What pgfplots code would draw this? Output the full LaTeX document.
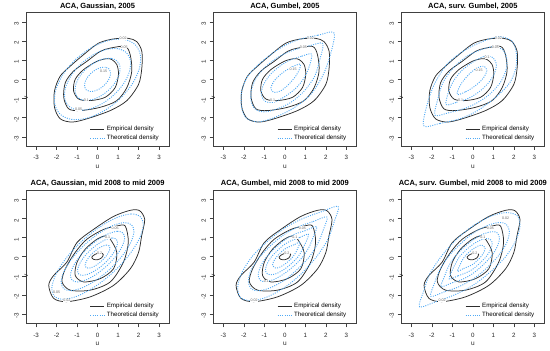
\documentclass[border=0pt]{standalone}
\usepackage{pgfplots}
\pgfplotsset{compat=1.18}
\usepackage{pgfplotstable}
\usepackage{fontspec}
\setmainfont{Liberation Sans}
\definecolor{theo}{RGB}{80,170,245}
\definecolor{emp}{RGB}{45,45,45}
\pgfplotsset{
  pan/.style={scale only axis, width=142.7pt, height=133.3pt, anchor=south west,
    xmin=-3.48, xmax=3.48, ymin=-3.48, ymax=3.48,
    xtick={-3,-2,-1,0,1,2,3}, ytick={-3,-2,-1,0,1,2,3},
    xticklabels={-3,-2,-1,0,1,2,3}, yticklabels={-3,-2,-1,0,1,2,3},
    tick pos=left, tick align=outside, major tick length=4pt,
    tick style={black!75, line width=0.5pt},
    axis line style={black!75, line width=0.6pt},
    ticklabel style={font=\fontsize{6.2}{7}\selectfont, text=black!85},
    xticklabel style={yshift=-2pt},
    yticklabel style={rotate=90, anchor=south, xshift=-2pt},
    xlabel={u}, ylabel={v},
    label style={font=\fontsize{6.5}{7}\selectfont, text=black!85},
    xlabel style={at={(axis description cs:0.5,0)}, anchor=center, yshift=-21pt},
    ylabel style={at={(axis description cs:0,0.5)}, anchor=center, xshift=-19pt},
    every axis title shift=0pt,
    title style={font=\bfseries\fontsize{7.5}{8}\selectfont, at={(axis description cs:0.5,1)}, anchor=base, yshift=4pt},
    legend style={draw=none, fill=none, at={(axis description cs:0.945,0.02)}, anchor=south east,
      font=\fontsize{6.2}{7}\selectfont, row sep=-1pt, inner sep=0pt},
    legend cell align=left,
    legend image code/.code={\draw[##1] (0pt,0pt) -- (14pt,0pt);},
  },
  E/.style={forget plot, emp, line width=0.75pt, smooth cycle},
  T/.style={forget plot, theo, line width=0.9pt, dash pattern=on 1pt off 1.3pt, smooth cycle},
  LE/.style={draw=emp, line width=0.75pt},
  LT/.style={draw=theo, line width=0.9pt, dash pattern=on 1pt off 1.3pt},
}
\tikzset{lab/.style={font=\fontsize{3.6}{4}\selectfont, text=black!60, fill=white, inner sep=0.2pt}}

% empirical contours, 2005
\pgfplotstableread{
x y
0.05 1.89
0.78 2.11
1.5 2.14
1.91 1.97
2.16 1.46
2.16 0.6
2.0 -0.26
1.43 -1.11
0.62 -1.63
-0.52 -2.06
-1.25 -2.23
-1.82 -2.06
-2.1 -1.46
-2.1 -0.6
-1.82 0.17
-1.33 0.69
-0.68 1.29
}\EmpAa
\pgfplotstableread{
x y
0.13 1.46
0.62 1.63
1.35 1.72
1.59 1.29
1.67 0.43
1.43 -0.43
0.94 -1.11
0.13 -1.46
-0.84 -1.63
-1.41 -1.54
-1.65 -0.94
-1.57 -0.17
-1.17 0.43
-0.52 0.94
}\EmpAb
\pgfplotstableread{
x y
-0.03 0.94
0.45 1.08
0.7 1.03
0.94 0.77
1.02 0.26
0.86 -0.43
0.37 -0.94
-0.36 -1.11
-0.92 -1.03
-1.17 -0.6
-1.09 0.0
-0.68 0.51
}\EmpAc
% empirical contours, mid 2008 to mid 2009
\pgfplotstableread{
x y
0.78 2.1
1.6 2.42
2.05 2.4
2.3 1.94
2.15 1.08
2.0 0.22
1.6 -0.63
0.78 -1.5
-0.36 -2.1
-1.5 -2.35
-2.14 -2.18
-2.38 -1.5
-2.14 -0.98
-1.5 -0.29
-1.0 0.74
-0.2 1.42
}\EmpBa
\pgfplotstableread{
x y
0.94 1.6
1.35 1.6
1.5 0.74
1.26 -0.29
0.62 -1.32
-0.36 -1.75
-1.33 -1.75
-1.73 -1.32
-1.57 -0.63
-1.09 0.22
-0.52 0.91
0.29 1.42
}\EmpBb
\pgfplotstableread{
x y
0.37 1.08
0.62 0.91
0.94 0.22
0.78 -0.63
0.13 -1.15
-0.68 -1.32
-1.09 -0.98
-1.0 -0.29
-0.6 0.39
-0.03 0.91
}\EmpBc
\pgfplotstableread{
x y
0.28 0.12
0.12 0.2
-0.12 0.12
-0.28 -0.02
-0.2 -0.14
0.0 -0.16
0.2 -0.06
}\EmpBd

\begin{document}
\begin{tikzpicture}
\useasboundingbox (0,0) rectangle (550pt,351pt);

% ---------------- Row 1, Gaussian
\begin{axis}[pan, at={(26.2pt,205pt)}, title={ACA, Gaussian, 2005}]
\addlegendimage{LE}\addlegendentry{Empirical density}
\addlegendimage{LT}\addlegendentry{Theoretical density}
\addplot[E] table {\EmpAa};
\addplot[E] table {\EmpAb};
\addplot[E] table {\EmpAc};
\addplot[T] coordinates {(1.824,1.824)(1.281,2.089)(0.545,2.035)(-0.275,1.673)(-1.054,1.054)(-1.673,0.275)(-2.035,-0.545)(-2.089,-1.281)(-1.824,-1.824)(-1.281,-2.089)(-0.545,-2.035)(0.275,-1.673)(1.054,-1.054)(1.673,-0.275)(2.035,0.545)(2.089,1.281)};
\addplot[T] coordinates {(1.400,1.400)(0.985,1.603)(0.420,1.560)(-0.209,1.281)(-0.806,0.806)(-1.281,0.209)(-1.560,-0.420)(-1.603,-0.985)(-1.400,-1.400)(-0.985,-1.603)(-0.420,-1.560)(0.209,-1.281)(0.806,-0.806)(1.281,-0.209)(1.560,0.420)(1.603,0.985)};
\addplot[T] coordinates {(0.955,0.955)(0.671,1.093)(0.285,1.065)(-0.144,0.876)(-0.552,0.552)(-0.876,0.144)(-1.065,-0.285)(-1.093,-0.671)(-0.955,-0.955)(-0.671,-1.093)(-0.285,-1.065)(0.144,-0.876)(0.552,-0.552)(0.876,-0.144)(1.065,0.285)(1.093,0.671)};
\addplot[T] coordinates {(0.552,0.552)(0.388,0.632)(0.165,0.615)(-0.083,0.505)(-0.318,0.318)(-0.505,0.083)(-0.615,-0.165)(-0.632,-0.388)(-0.552,-0.552)(-0.388,-0.632)(-0.165,-0.615)(0.083,-0.505)(0.318,-0.318)(0.505,-0.083)(0.615,0.165)(0.632,0.388)};
\node[lab] at (axis cs:1.25,2.13) {0.02};
\node[lab] at (axis cs:1.3,1.7) {0.05};
\node[lab] at (axis cs:-0.92,-1.58) {0.05};
\node[lab] at (axis cs:-0.55,-1.08) {0.1};
\node[lab] at (axis cs:0.3,0.4) {0.15};
\end{axis}

% ---------------- Row 1, Gumbel
\begin{axis}[pan, at={(213.5pt,205pt)}, title={ACA, Gumbel, 2005}]
\addlegendimage{LE}\addlegendentry{Empirical density}
\addlegendimage{LT}\addlegendentry{Theoretical density}
\addplot[E] table {\EmpAa};
\addplot[E] table {\EmpAb};
\addplot[E] table {\EmpAc};
\addplot[T] coordinates {(2.4,2.42)(1.6,2.3)(0.6,2.05)(-0.25,1.62)(-1.15,0.9)(-1.8,0.18)(-2.1,-0.6)(-2.12,-1.4)(-1.9,-2.0)(-1.35,-2.22)(-0.65,-2.05)(0.35,-1.55)(1.25,-0.8)(1.85,0.2)(2.2,1.2)};
\addplot[T] coordinates {(1.85,1.87)(1.2,1.75)(0.4,1.52)(-0.25,1.2)(-0.85,0.75)(-1.35,0.15)(-1.62,-0.5)(-1.65,-1.1)(-1.45,-1.55)(-1.0,-1.7)(-0.4,-1.55)(0.3,-1.2)(0.95,-0.6)(1.45,0.15)(1.7,1.0)};
\addplot[T] coordinates {(1.3,1.32)(0.8,1.2)(0.2,0.98)(-0.3,0.65)(-0.75,0.2)(-1.05,-0.3)(-1.15,-0.8)(-0.95,-1.15)(-0.55,-1.2)(0.0,-0.9)(0.55,-0.45)(0.95,0.1)(1.2,0.7)};
\addplot[T] coordinates {(0.75,0.8)(0.35,0.65)(-0.1,0.35)(-0.5,-0.05)(-0.68,-0.45)(-0.55,-0.68)(-0.2,-0.6)(0.2,-0.25)(0.55,0.2)(0.72,0.55)};
\node[lab] at (axis cs:1.25,2.13) {0.02};
\node[lab] at (axis cs:0.9,1.68) {0.05};
\node[lab] at (axis cs:-0.6,-1.08) {0.1};
\node[lab] at (axis cs:0.4,0.55) {0.15};
\end{axis}

% ---------------- Row 1, surv. Gumbel
\begin{axis}[pan, at={(401.5pt,205pt)}, title={ACA, surv. Gumbel, 2005}]
\addlegendimage{LE}\addlegendentry{Empirical density}
\addlegendimage{LT}\addlegendentry{Theoretical density}
\addplot[E] table {\EmpAa};
\addplot[E] table {\EmpAb};
\addplot[E] table {\EmpAc};
\addplot[T] coordinates {(-2.4,-2.42)(-1.6,-2.3)(-0.6,-2.05)(0.25,-1.62)(1.15,-0.9)(1.8,-0.18)(2.1,0.6)(2.12,1.4)(1.9,2.0)(1.35,2.22)(0.65,2.05)(-0.35,1.55)(-1.25,0.8)(-1.85,-0.2)(-2.2,-1.2)};
\addplot[T] coordinates {(-1.85,-1.87)(-1.2,-1.75)(-0.4,-1.52)(0.25,-1.2)(0.85,-0.75)(1.35,-0.15)(1.62,0.5)(1.65,1.1)(1.45,1.55)(1.0,1.7)(0.4,1.55)(-0.3,1.2)(-0.95,0.6)(-1.45,-0.15)(-1.7,-1.0)};
\addplot[T] coordinates {(-1.3,-1.32)(-0.8,-1.2)(-0.2,-0.98)(0.3,-0.65)(0.75,-0.2)(1.05,0.3)(1.15,0.8)(0.95,1.15)(0.55,1.2)(0.0,0.9)(-0.55,0.45)(-0.95,-0.1)(-1.2,-0.7)};
\addplot[T] coordinates {(-0.75,-0.8)(-0.35,-0.65)(0.1,-0.35)(0.5,0.05)(0.68,0.45)(0.55,0.68)(0.2,0.6)(-0.2,0.25)(-0.55,-0.2)(-0.72,-0.55)};
\node[lab] at (axis cs:1.25,2.13) {0.02};
\node[lab] at (axis cs:1.1,1.68) {0.05};
\node[lab] at (axis cs:0.7,1.15) {0.1};
\node[lab] at (axis cs:-0.6,-1.08) {0.1};
\node[lab] at (axis cs:0.3,0.5) {0.15};
\end{axis}

% ---------------- Row 2, Gaussian
\begin{axis}[pan, at={(26.2pt,27.7pt)}, title={ACA, Gaussian, mid 2008 to mid 2009}]
\addlegendimage{LE}\addlegendentry{Empirical density}
\addlegendimage{LT}\addlegendentry{Theoretical density}
\addplot[E] table {\EmpBa};
\addplot[E] table {\EmpBb};
\addplot[E] table {\EmpBc};
\addplot[E] table {\EmpBd};
\addplot[T] coordinates {(2.086,2.086)(1.625,2.229)(0.918,2.032)(0.071,1.527)(-0.788,0.788)(-1.527,-0.071)(-2.032,-0.918)(-2.229,-1.625)(-2.086,-2.086)(-1.625,-2.229)(-0.918,-2.032)(-0.071,-1.527)(0.788,-0.788)(1.527,0.071)(2.032,0.918)(2.229,1.625)};
\addplot[T] coordinates {(1.662,1.662)(1.296,1.776)(0.732,1.618)(0.058,1.216)(-0.627,0.627)(-1.216,-0.058)(-1.618,-0.732)(-1.776,-1.296)(-1.662,-1.662)(-1.296,-1.776)(-0.732,-1.618)(-0.058,-1.216)(0.627,-0.627)(1.216,0.058)(1.618,0.732)(1.776,1.296)};
\addplot[T] coordinates {(1.237,1.237)(0.964,1.322)(0.544,1.205)(0.042,0.906)(-0.467,0.467)(-0.906,-0.042)(-1.205,-0.544)(-1.322,-0.964)(-1.237,-1.237)(-0.964,-1.322)(-0.544,-1.205)(-0.042,-0.906)(0.467,-0.467)(0.906,0.042)(1.205,0.544)(1.322,0.964)};
\addplot[T] coordinates {(0.912,0.912)(0.710,0.976)(0.400,0.889)(0.029,0.669)(-0.346,0.346)(-0.669,-0.029)(-0.889,-0.400)(-0.976,-0.710)(-0.912,-0.912)(-0.710,-0.976)(-0.400,-0.889)(-0.029,-0.669)(0.346,-0.346)(0.669,0.029)(0.889,0.400)(0.976,0.710)};
\addplot[T] coordinates {(0.566,0.566)(0.442,0.604)(0.250,0.550)(0.021,0.413)(-0.212,0.212)(-0.413,-0.021)(-0.550,-0.250)(-0.604,-0.442)(-0.566,-0.566)(-0.442,-0.604)(-0.250,-0.550)(-0.021,-0.413)(0.212,-0.212)(0.413,0.021)(0.550,0.250)(0.604,0.442)};
\node[lab] at (axis cs:0.86,1.5) {0.05};
\node[lab] at (axis cs:0.49,1.0) {0.1};
\node[lab] at (axis cs:0.1,0.2) {0.2};
\node[lab] at (axis cs:-1.5,-2.3) {0.02};
\node[lab] at (axis cs:-2.0,-1.85) {0.05};
\end{axis}

% ---------------- Row 2, Gumbel
\begin{axis}[pan, at={(213.5pt,27.7pt)}, title={ACA, Gumbel, mid 2008 to mid 2009}]
\addlegendimage{LE}\addlegendentry{Empirical density}
\addlegendimage{LT}\addlegendentry{Theoretical density}
\addplot[E] table {\EmpBa};
\addplot[E] table {\EmpBb};
\addplot[E] table {\EmpBc};
\addplot[E] table {\EmpBd};
\addplot[T] coordinates {(2.6,2.62)(1.8,2.35)(0.9,2.0)(0.0,1.5)(-0.85,0.8)(-1.6,0.0)(-2.1,-0.85)(-2.3,-1.6)(-2.15,-2.15)(-1.6,-2.3)(-0.85,-2.1)(0.0,-1.6)(0.8,-0.9)(1.55,0.0)(2.1,0.9)(2.4,1.8)};
\addplot[T] coordinates {(2.05,2.07)(1.35,1.82)(0.7,1.58)(0.0,1.18)(-0.65,0.62)(-1.25,-0.05)(-1.65,-0.72)(-1.78,-1.3)(-1.62,-1.7)(-1.25,-1.78)(-0.7,-1.62)(0.0,-1.22)(0.62,-0.65)(1.2,0.0)(1.62,0.72)(1.87,1.38)};
\addplot[T] coordinates {(1.55,1.57)(1.0,1.36)(0.5,1.18)(0.0,0.88)(-0.48,0.45)(-0.92,-0.05)(-1.2,-0.55)(-1.3,-0.98)(-1.18,-1.25)(-0.95,-1.3)(-0.55,-1.2)(-0.05,-0.9)(0.45,-0.48)(0.88,0.0)(1.18,0.5)(1.38,1.02)};
\addplot[T] coordinates {(1.15,1.17)(0.72,1.0)(0.35,0.85)(0.0,0.65)(-0.35,0.33)(-0.68,-0.04)(-0.88,-0.41)(-0.95,-0.72)(-0.85,-0.9)(-0.7,-0.95)(-0.4,-0.88)(-0.03,-0.66)(0.33,-0.35)(0.65,0.0)(0.85,0.37)(1.02,0.74)};
\addplot[T] coordinates {(0.75,0.77)(0.45,0.62)(0.22,0.52)(0.0,0.4)(-0.22,0.2)(-0.42,-0.03)(-0.55,-0.26)(-0.6,-0.45)(-0.52,-0.56)(-0.43,-0.6)(-0.25,-0.55)(-0.02,-0.41)(0.2,-0.22)(0.4,0.0)(0.54,0.23)(0.64,0.47)};
\node[lab] at (axis cs:0.86,1.5) {0.05};
\node[lab] at (axis cs:0.49,1.0) {0.1};
\node[lab] at (axis cs:0.1,0.2) {0.2};
\node[lab] at (axis cs:-1.5,-2.3) {0.02};
\node[lab] at (axis cs:-0.9,-1.3) {0.1};
\end{axis}

% ---------------- Row 2, surv. Gumbel
\begin{axis}[pan, at={(401.5pt,27.7pt)}, title={ACA, surv. Gumbel, mid 2008 to mid 2009}]
\addlegendimage{LE}\addlegendentry{Empirical density}
\addlegendimage{LT}\addlegendentry{Theoretical density}
\addplot[E] table {\EmpBa};
\addplot[E] table {\EmpBb};
\addplot[E] table {\EmpBc};
\addplot[E] table {\EmpBd};
\addplot[T] coordinates {(-2.6,-2.62)(-1.8,-2.35)(-0.9,-2.0)(0.0,-1.5)(0.85,-0.8)(1.6,0.0)(2.1,0.85)(2.3,1.6)(2.15,2.15)(1.6,2.3)(0.85,2.1)(0.0,1.6)(-0.8,0.9)(-1.55,0.0)(-2.1,-0.9)(-2.4,-1.8)};
\addplot[T] coordinates {(-2.05,-2.07)(-1.35,-1.82)(-0.7,-1.58)(0.0,-1.18)(0.65,-0.62)(1.25,0.05)(1.65,0.72)(1.78,1.3)(1.62,1.7)(1.25,1.78)(0.7,1.62)(0.0,1.22)(-0.62,0.65)(-1.2,0.0)(-1.62,-0.72)(-1.87,-1.38)};
\addplot[T] coordinates {(-1.55,-1.57)(-1.0,-1.36)(-0.5,-1.18)(0.0,-0.88)(0.48,-0.45)(0.92,0.05)(1.2,0.55)(1.3,0.98)(1.18,1.25)(0.95,1.3)(0.55,1.2)(0.05,0.9)(-0.45,0.48)(-0.88,0.0)(-1.18,-0.5)(-1.38,-1.02)};
\addplot[T] coordinates {(-1.15,-1.17)(-0.72,-1.0)(-0.35,-0.85)(0.0,-0.65)(0.35,-0.33)(0.68,0.04)(0.88,0.41)(0.95,0.72)(0.85,0.9)(0.7,0.95)(0.4,0.88)(0.03,0.66)(-0.33,0.35)(-0.65,0.0)(-0.85,-0.37)(-1.02,-0.74)};
\addplot[T] coordinates {(-0.75,-0.77)(-0.45,-0.62)(-0.22,-0.52)(0.0,-0.4)(0.22,-0.2)(0.42,0.03)(0.55,0.26)(0.6,0.45)(0.52,0.56)(0.43,0.6)(0.25,0.55)(0.02,0.41)(-0.2,0.22)(-0.4,0.0)(-0.54,-0.23)(-0.64,-0.47)};
\node[lab] at (axis cs:0.86,1.5) {0.05};
\node[lab] at (axis cs:0.49,1.0) {0.1};
\node[lab] at (axis cs:0.1,0.2) {0.2};
\node[lab] at (axis cs:-1.5,-2.3) {0.02};
\node[lab] at (axis cs:1.6,2.0) {0.02};
\end{axis}
\end{tikzpicture}
\end{document}
